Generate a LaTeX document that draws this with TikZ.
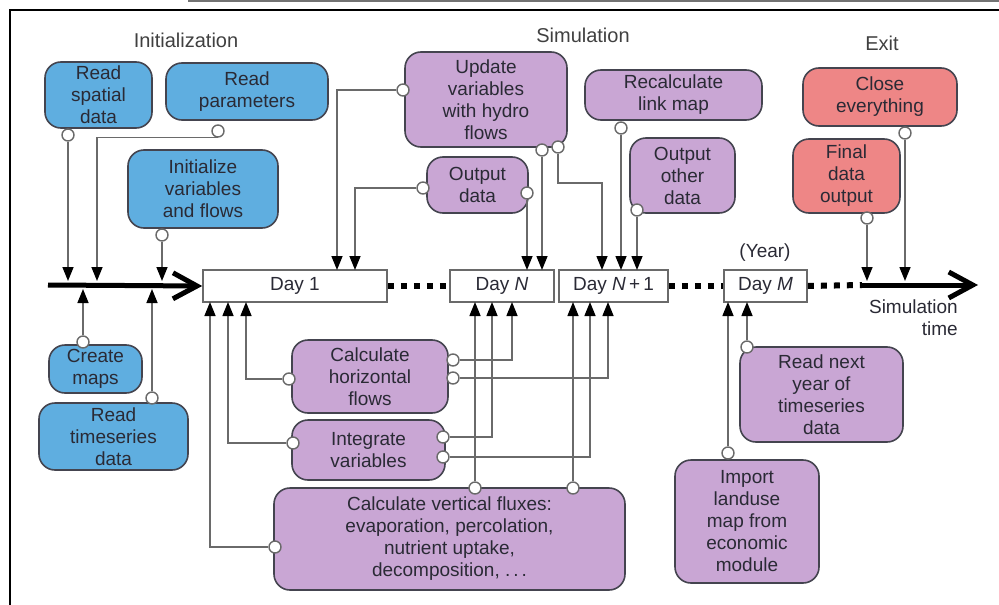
\documentclass[tikz,border=0pt]{standalone}
\usepackage{fontspec}
\setmainfont{Liberation Sans}
\usetikzlibrary{arrows.meta}

\definecolor{initfill}{HTML}{5FAEE0}
\definecolor{simfill}{HTML}{C9A6D4}
\definecolor{exitfill}{HTML}{EE8686}
\definecolor{boxline}{HTML}{44444F}
\definecolor{txtcol}{HTML}{2A2A35}
\definecolor{lncol}{HTML}{6A6A6A}

\begin{document}
\begin{tikzpicture}[x=1pt,y=-1pt,
  every node/.style={font=\fontsize{19}{22}\selectfont, text=txtcol},
  bbox/.style={draw=boxline, line width=1.6pt, rounded corners=16pt,
    align=center, inner sep=0pt},
  initbox/.style={bbox, fill=initfill},
  simbox/.style={bbox, fill=simfill},
  exitbox/.style={bbox, fill=exitfill},
  daybox/.style={draw=lncol, line width=1.6pt, fill=white, inner sep=0pt,
    minimum height=32pt},
  phase/.style={font=\fontsize{20}{22}\selectfont, text=black!75},
  port/.style={circle, draw=lncol, line width=1.4pt, fill=white,
    inner sep=0pt, minimum size=12pt},
  conn/.style={draw=lncol, line width=1.5pt,
    -{Triangle[length=14pt,width=11pt,color=black]}},
  tline/.style={draw=black, line width=5pt,
    -{Straight Barb[length=24pt,width=26pt]}},
  dotline/.style={draw=black, line width=6pt, dash pattern=on 6pt off 7pt}
]
\useasboundingbox (0,0) rectangle (999,605);

% frame
\draw[black!55, line width=1.5pt] (188,1) -- (999,1);
\draw[black, line width=2pt] (10,605) -- (10,10) -- (999,10);

% phase titles
\node[phase] (tInit) at (186,40) {Initialization};
\node[phase] (tSim)  at (583,35) {Simulation};
\node[phase] (tExit) at (882,43) {Exit};

% initialization boxes
\node[initbox, minimum width=107pt, minimum height=66pt] (spatial) at (98.5,95) {Read\\spatial\\data};
\node[initbox, minimum width=162pt, minimum height=57pt] (params) at (247,91.5) {Read\\parameters};
\node[initbox, minimum width=150pt, minimum height=78pt] (init) at (203,189) {Initialize\\variables\\and flows};
\node[initbox, minimum width=93pt, minimum height=48pt] (maps) at (95.5,369) {Create\\maps};
\node[initbox, minimum width=149pt, minimum height=67pt] (tseries) at (113.5,436.5) {Read\\timeseries\\data};

% simulation boxes
\node[simbox, minimum width=162pt, minimum height=95pt] (update) at (486,99.5) {Update\\variables\\with hydro\\flows};
\node[simbox, minimum width=101pt, minimum height=56pt] (outdata) at (477.5,185) {Output\\data};
\node[simbox, minimum width=177pt, minimum height=50pt] (recalc) at (673.5,95) {Recalculate\\link map};
\node[simbox, minimum width=105pt, minimum height=75pt] (other) at (682.5,175.5) {Output\\other\\data};
\node[simbox, minimum width=156pt, minimum height=73pt] (horiz) at (370,376.5) {Calculate\\horizontal\\flows};
\node[simbox, minimum width=153pt, minimum height=60pt] (integ) at (368.5,450) {Integrate\\variables};
\node[simbox, minimum width=351pt, minimum height=102pt] (vert) at (449.5,539) {Calculate vertical fluxes:\\evaporation, percolation,\\nutrient uptake,\\decomposition, .\hspace{3pt}.\hspace{3pt}.};
\node[simbox, minimum width=163pt, minimum height=95pt] (nexty) at (821.5,394.5) {Read next\\year of\\timeseries\\data};
\node[simbox, minimum width=144pt, minimum height=123pt] (landuse) at (747,521.5) {Import\\landuse\\map from\\economic\\module};

% exit boxes
\node[exitbox, minimum width=154pt, minimum height=58pt] (close) at (880,97) {Close\\everything};
\node[exitbox, minimum width=107pt, minimum height=74pt] (final) at (846.5,176) {Final\\data\\output};

% time line with day boxes
\node[daybox, minimum width=184pt] (day1) at (295,286) {Day 1};
\node[daybox, minimum width=104pt] (dayN) at (502,286) {Day \textit{N}};
\node[daybox, minimum width=109pt] (dayN1) at (613.5,286) {Day \textit{N}\,+\,1};
\node[daybox, minimum width=83pt] (dayM) at (765.5,286) {Day \textit{M}};
\node (year) at (765,253) {(Year)};
\node[align=right, anchor=north east, inner sep=0pt] (simtime) at (958,300) {Simulation\\time};

\coordinate (tlStart) at (48,285);
\coordinate (tlMid) at (862,285);
\coordinate (tlEnd) at (978,285);
\draw[tline] (tlStart) -- (day1.west);
\draw[dotline] (day1.east) -- (dayN.west);
\draw[dotline] (dayN1.east) -- (dayM.west);
\draw[dotline] (dayM.east) -- (tlMid);
\draw[tline] (tlMid) -- (tlEnd);

% end points of connectors
\coordinate (eSpatial) at (68,281);
\coordinate (eParams) at (97,281);
\coordinate (eInit) at (162,281);
\coordinate (eMaps) at (83,289);
\coordinate (eTseries) at (152,289);
\coordinate (eFinal) at (867,281);
\coordinate (eClose) at (905,281);
\coordinate (d1a) at (337,270);
\coordinate (d1b) at (355,270);
\coordinate (dNa) at (527,270);
\coordinate (dNb) at (542,270);
\coordinate (dN1a) at (602,270);
\coordinate (dN1b) at (621,270);
\coordinate (dN1c) at (637,270);
\coordinate (u1) at (210,302);
\coordinate (u2) at (228,302);
\coordinate (u3) at (246,302);
\coordinate (uN1) at (475,302);
\coordinate (uN2) at (492,302);
\coordinate (uN3) at (512,302);
\coordinate (uP1) at (573,302);
\coordinate (uP2) at (590,302);
\coordinate (uP3) at (608,302);
\coordinate (uM1) at (728,302);
\coordinate (uM2) at (747,302);
\coordinate (kUpd) at (558,183);

% ports
\node[port] (pSpatial) at (68,135) {};
\node[port] (pParams) at (218,131) {};
\node[port] (pInit) at (162,235) {};
\node[port] (pMaps) at (83,342) {};
\node[port] (pTseries) at (152,398) {};
\node[port] (pUpdL) at (403,90) {};
\node[port] (pUpdB1) at (542,150) {};
\node[port] (pUpdB2) at (558,147) {};
\node[port] (pOutL) at (423,188) {};
\node[port] (pOutR) at (527,193) {};
\node[port] (pRecalc) at (621,128) {};
\node[port] (pOther) at (637,210) {};
\node[port] (pClose) at (905,133) {};
\node[port] (pFinal) at (867,218) {};
\node[port] (pHorL) at (289,379) {};
\node[port] (pHorR1) at (453,360) {};
\node[port] (pHorR2) at (453,378) {};
\node[port] (pIntL) at (293,443) {};
\node[port] (pIntR1) at (443,437) {};
\node[port] (pIntR2) at (443,457) {};
\node[port] (pVertL) at (275,547) {};
\node[port] (pVertT1) at (475,488) {};
\node[port] (pVertT2) at (573,488) {};
\node[port] (pNext) at (747,347) {};
\node[port] (pLand) at (728,453) {};

% connectors into the time line
\draw[conn] (pSpatial) -- (eSpatial);
\draw[conn] (pParams.south) -| (eParams);
\draw[conn] (pInit) -- (eInit);
\draw[conn] (pMaps) -- (eMaps);
\draw[conn] (pTseries) -- (eTseries);
\draw[conn] (pFinal) -- (eFinal);
\draw[conn] (pClose) -- (eClose);

% connectors into the day boxes from above
\draw[conn] (pUpdL) -| (d1a);
\draw[conn] (pOutL) -| (d1b);
\draw[conn] (pOutR) -- (dNa);
\draw[conn] (pUpdB1) -- (dNb);
\draw[conn] (pUpdB2) -- (kUpd) -| (dN1a);
\draw[conn] (pRecalc) -- (dN1b);
\draw[conn] (pOther) -- (dN1c);

% connectors into the day boxes from below
\draw[conn] (pHorL) -| (u3);
\draw[conn] (pIntL) -| (u2);
\draw[conn] (pVertL) -| (u1);
\draw[conn] (pHorR1) -| (uN3);
\draw[conn] (pIntR1) -| (uN2);
\draw[conn] (pVertT1) -- (uN1);
\draw[conn] (pHorR2) -| (uP3);
\draw[conn] (pIntR2) -| (uP2);
\draw[conn] (pVertT2) -- (uP1);
\draw[conn] (pNext) -- (uM2);
\draw[conn] (pLand) -- (uM1);
\end{tikzpicture}
\end{document}
